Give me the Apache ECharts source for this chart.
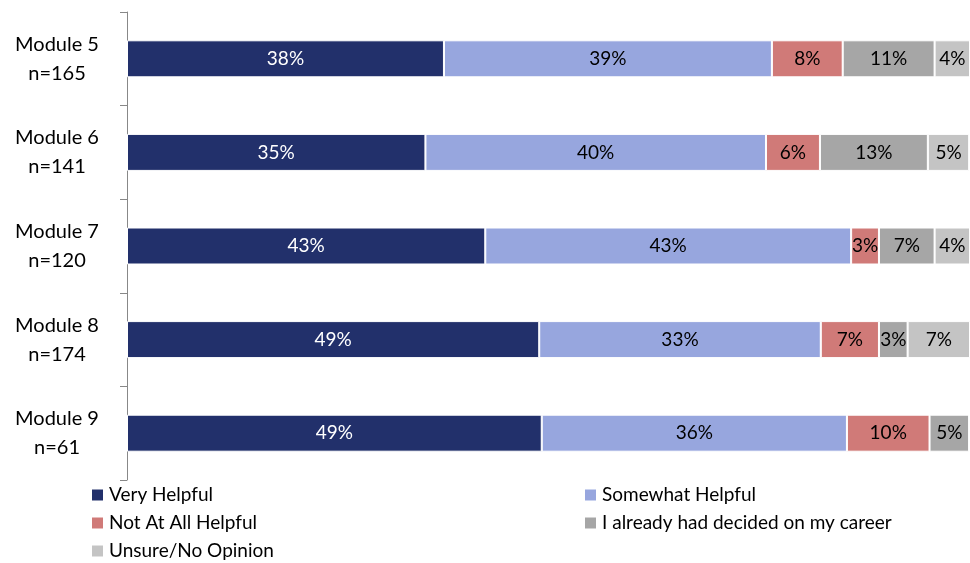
<!DOCTYPE html>
<html>
<head>
<meta charset="utf-8">
<script src="https://cdn.jsdelivr.net/npm/echarts@6/dist/echarts.min.js"></script>
<style>
  html, body { margin: 0; padding: 0; background: #fff; }
  #chart { width: 970px; height: 563px; }
</style>
</head>
<body>
<div id="chart"></div>
<script>
var modules = ['Module 5\nn=165', 'Module 6\nn=141', 'Module 7\nn=120', 'Module 8\nn=174', 'Module 9\nn=61'];
var veryHelpful = [37.6, 35.4, 42.5, 48.9, 49.2];
var somewhatHelpful = [38.9, 40.4, 43.4, 33.4, 36.2];
var notAtAll = [8.4, 6.4, 3.3, 6.9, 9.8];
var alreadyDecided = [10.9, 12.8, 6.6, 3.4, 4.7];
var unsure = [4.2, 4.9, 4.2, 7.4, 0];

var fontName = 'Lato, "Open Sans", sans-serif';

function pct(p) {
    if (!p.value) return '';
    return Math.round(p.value) + '%';
}

function makeSeries(name, data, color, textColor) {
    return {
        name: name,
        type: 'bar',
        stack: 'total',
        barWidth: 37,
        data: data,
        itemStyle: { color: color, borderColor: '#ffffff', borderWidth: 1 },
        label: {
            show: true,
            position: 'inside',
            formatter: pct,
            color: textColor,
            fontSize: 19,
            fontFamily: fontName
        }
    };
}

var legendText = { fontSize: 19, color: '#000', fontFamily: fontName, lineHeight: 20 };

var chart = echarts.init(document.getElementById('chart'));
var option = {
    animation: false,
    textStyle: { fontFamily: fontName },
    grid: { left: 127, right: 0, top: 12, bottom: 83 },
    legend: [
        {
            left: 90,
            top: 485,
            padding: 0,
            orient: 'vertical',
            itemWidth: 13,
            itemHeight: 13,
            itemGap: 8,
            icon: 'rect',
            textStyle: legendText,
            data: ['Very Helpful', 'Not At All Helpful', 'Unsure/No Opinion']
        },
        {
            left: 583,
            top: 485,
            padding: 0,
            orient: 'vertical',
            itemWidth: 13,
            itemHeight: 13,
            itemGap: 8,
            icon: 'rect',
            textStyle: legendText,
            data: ['Somewhat Helpful', 'I already had decided on my career']
        }
    ],
    xAxis: {
        type: 'value',
        min: 0,
        max: 100,
        show: false
    },
    yAxis: {
        type: 'category',
        inverse: true,
        data: modules,
        axisLine: { show: true, lineStyle: { color: '#888888', width: 1 } },
        axisTick: { show: true, length: 7, lineStyle: { color: '#888888' } },
        axisLabel: {
            color: '#000',
            fontSize: 20,
            lineHeight: 29,
            align: 'center',
            margin: 70,
            fontFamily: fontName
        }
    },
    series: [
        makeSeries('Very Helpful', veryHelpful, '#22306B', '#ffffff'),
        makeSeries('Somewhat Helpful', somewhatHelpful, '#97A6DE', '#000000'),
        makeSeries('Not At All Helpful', notAtAll, '#D07A78', '#000000'),
        makeSeries('I already had decided on my career', alreadyDecided, '#A6A6A6', '#000000'),
        makeSeries('Unsure/No Opinion', unsure, '#C4C4C4', '#000000')
    ]
};
chart.setOption(option);
</script>
</body>
</html>
